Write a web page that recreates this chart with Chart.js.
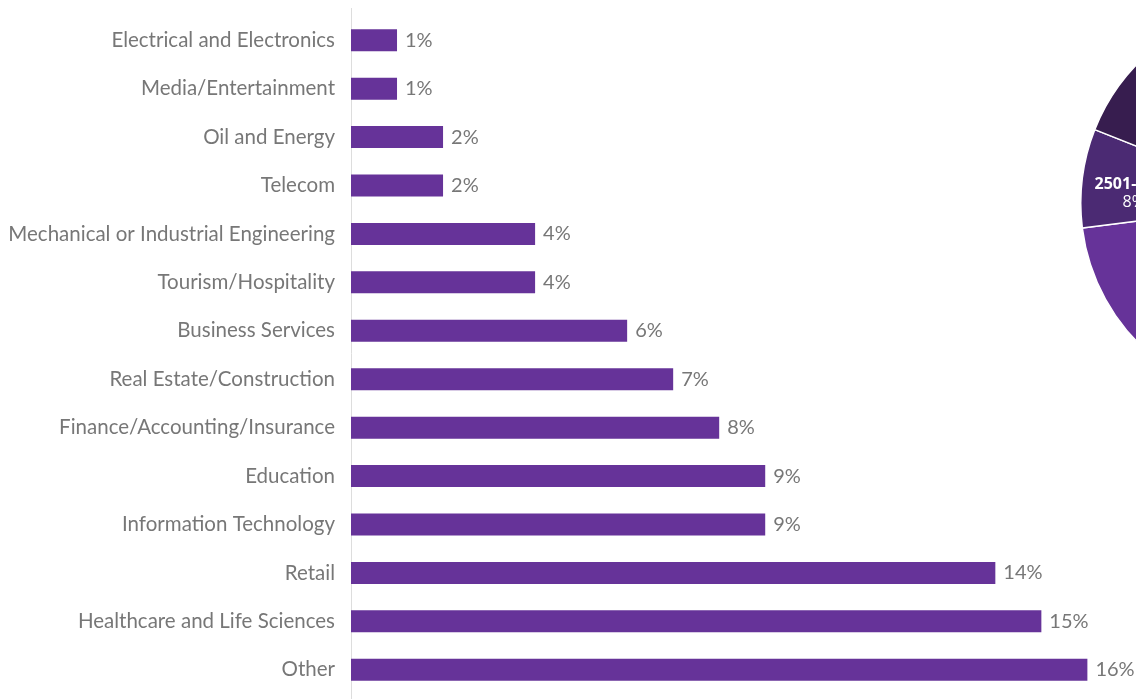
<!DOCTYPE html>
<html>
<head>
<meta charset="utf-8">
<script src="https://cdn.jsdelivr.net/npm/chart.js@4.4.0/dist/chart.umd.min.js"></script>
<style>
  html, body { margin: 0; padding: 0; background: #fff; overflow: hidden; }
  #wrap { position: relative; width: 1136px; height: 699px; overflow: hidden; }
  #barBox { position: absolute; left: 0; top: 0; }
  #pieBox { position: absolute; left: 1030px; top: -47px; }
</style>
</head>
<body>
<div id="wrap">
  <div id="barBox"><canvas id="industryChart" width="1136" height="699"></canvas></div>
  <div id="pieBox"><canvas id="sizeChart" width="500" height="500"></canvas></div>
</div>
<script>
// industry breakdown (percent of respondents)
const industries = [
  'Electrical and Electronics',
  'Media/Entertainment',
  'Oil and Energy',
  'Telecom',
  'Mechanical or Industrial Engineering',
  'Tourism/Hospitality',
  'Business Services',
  'Real Estate/Construction',
  'Finance/Accounting/Insurance',
  'Education',
  'Information Technology',
  'Retail',
  'Healthcare and Life Sciences',
  'Other'
];
const industryShare = [1, 1, 2, 2, 4, 4, 6, 7, 8, 9, 9, 14, 15, 16];

// company size breakdown
const sizeLabels = ['1-200', '201-500', '501-1000', '1001-2500', '2501-5000', '5001-10000', '10001+'];
const sizeShare = [18, 16, 15, 24, 8, 16, 3];
const sizeColors = ['#b9a3d6', '#9a7cc4', '#8058b3', '#663399', '#4b2a73', '#371d4f', '#2a1540'];

const PURPLE = '#663399';
const GREY = '#777777';
const FONT = 'Lato, "Open Sans", sans-serif';

// percentage text at the end of each bar
const barValueLabels = {
  id: 'barValueLabels',
  afterDatasetsDraw(chart) {
    const ctx = chart.ctx;
    const meta = chart.getDatasetMeta(0);
    ctx.save();
    ctx.font = '20px ' + FONT;
    ctx.fillStyle = GREY;
    ctx.textAlign = 'left';
    ctx.textBaseline = 'middle';
    meta.data.forEach((bar, i) => {
      ctx.fillText(industryShare[i] + '%', bar.x + 8, bar.y);
    });
    ctx.restore();
  }
};

// thin vertical axis line running the full height
const axisLine = {
  id: 'axisLine',
  beforeDatasetsDraw(chart) {
    const ctx = chart.ctx;
    const x = chart.chartArea.left + 0.5;
    ctx.save();
    ctx.strokeStyle = '#dddddd';
    ctx.lineWidth = 1;
    ctx.beginPath();
    ctx.moveTo(x, 8);
    ctx.lineTo(x, chart.height);
    ctx.stroke();
    ctx.restore();
  }
};

new Chart(document.getElementById('industryChart'), {
  type: 'bar',
  data: {
    labels: industries,
    datasets: [{
      data: industryShare,
      backgroundColor: PURPLE,
      barPercentage: 0.455,
      categoryPercentage: 1
    }]
  },
  options: {
    indexAxis: 'y',
    responsive: false,
    animation: false,
    layout: { padding: { top: 16, bottom: 5, left: 0, right: 21 } },
    plugins: { legend: { display: false }, tooltip: { enabled: false } },
    scales: {
      x: { display: false, min: 0, max: 16.6 },
      y: {
        afterFit(scale) {
          scale.width = 351;
          scale.paddingTop = 0;
          scale.paddingBottom = 0;
        },
        border: { display: false },
        grid: { display: false, drawTicks: false },
        ticks: {
          padding: 16,
          color: GREY,
          font: { family: FONT, size: 20.5 }
        }
      }
    }
  },
  plugins: [barValueLabels, axisLine]
});

// size label + percentage inside each slice
const sliceLabels = {
  id: 'sliceLabels',
  afterDatasetsDraw(chart) {
    const ctx = chart.ctx;
    const meta = chart.getDatasetMeta(0);
    ctx.save();
    ctx.fillStyle = '#ffffff';
    ctx.textAlign = 'center';
    ctx.textBaseline = 'middle';
    meta.data.forEach((arc, i) => {
      const p = arc.getProps(['x', 'y', 'startAngle', 'endAngle', 'outerRadius'], true);
      const mid = (p.startAngle + p.endAngle) / 2;
      const r = p.outerRadius * 0.74;
      const x = p.x + Math.cos(mid) * r;
      const y = p.y + Math.sin(mid) * r;
      ctx.font = 'bold 16px "Open Sans", sans-serif';
      ctx.fillText(sizeLabels[i], x, y);
      ctx.font = '16px "Open Sans", sans-serif';
      ctx.fillText(sizeShare[i] + '%', x, y + 18);
    });
    ctx.restore();
  }
};

new Chart(document.getElementById('sizeChart'), {
  type: 'pie',
  data: {
    labels: sizeLabels,
    datasets: [{
      data: sizeShare,
      backgroundColor: sizeColors,
      borderColor: '#ffffff',
      borderWidth: 1.5
    }]
  },
  options: {
    responsive: false,
    animation: false,
    layout: { padding: 50 },
    plugins: { legend: { display: false }, tooltip: { enabled: false } }
  },
  plugins: [sliceLabels]
});
</script>
</body>
</html>
